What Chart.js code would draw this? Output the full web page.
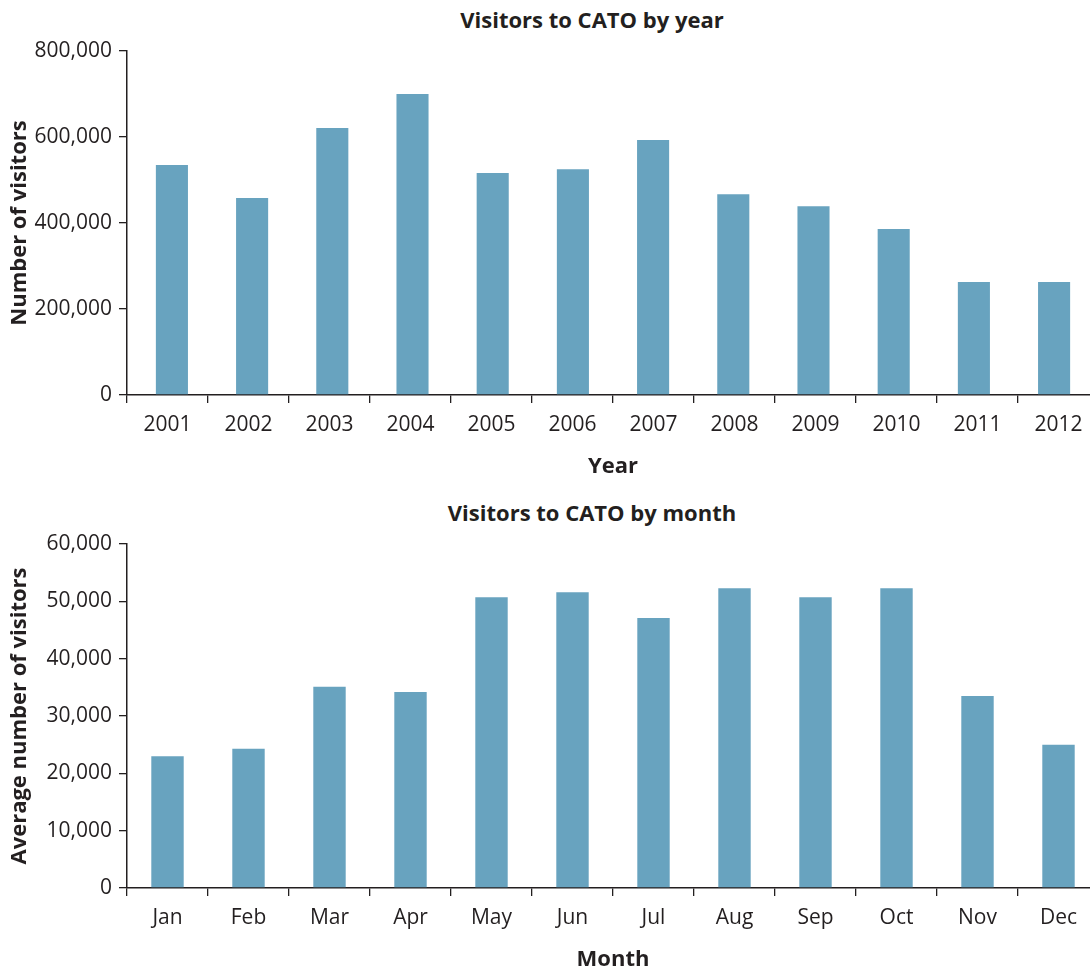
<!DOCTYPE html>
<html>
<head>
<meta charset="utf-8">
<script src="https://cdn.jsdelivr.net/npm/chart.js@4"></script>
<style>
  html, body { margin: 0; padding: 0; background: #fff; overflow: hidden; width: 1090px; height: 973px; }
  .box { position: absolute; left: 0; width: 1100px; }
  .title { position: absolute; left: 0; width: 1184px; text-align: center;
           font: 700 22px 'Open Sans', sans-serif; line-height: 24px; color: #231f20; }
</style>
</head>
<body>
<div class="title" style="top:7px">Visitors to CATO by year</div>
<div class="box" style="top:0; height:487px;"><canvas id="c1"></canvas></div>
<div class="title" style="top:500px">Visitors to CATO by month</div>
<div class="box" style="top:487px; height:486px;"><canvas id="c2"></canvas></div>
<script>
const years = ['2001','2002','2003','2004','2005','2006','2007','2008','2009','2010','2011','2012'];
const visitorsByYear = [535000, 458000, 621000, 700000, 516000, 525000, 593000, 467000, 439000, 386000, 263000, 263000];
const yearTicks = [0, 200000, 400000, 600000, 800000];

const months = ['Jan','Feb','Mar','Apr','May','Jun','Jul','Aug','Sep','Oct','Nov','Dec'];
const visitorsByMonth = [23000, 24300, 35100, 34200, 50700, 51600, 47100, 52300, 50700, 52300, 33500, 25000];
const monthTicks = [0, 10000, 20000, 30000, 40000, 50000, 60000];

const INK = '#231f20';
const BAR = '#68a3bf';
const tickFont = { family: "'Open Sans', sans-serif", size: 21 };
const titleFont = { family: "'Open Sans', sans-serif", size: 22, weight: '700' };

// barRange: [min, max] of a hidden linear axis carrying the bars (to follow the
// slightly tighter bar spacing of the original); null = bars on the category axis.
function makeChart(id, labels, values, tickVals, xTitle, yTitle, padTop, padBottom, barRange) {
  const maxV = tickVals[tickVals.length - 1];
  const step = tickVals[1] - tickVals[0];
  const useLinear = !!barRange;
  const data = useLinear ? values.map((v, i) => ({ x: i, y: v })) : values;
  const scales = {
    x: {
      type: 'category',
      offset: true,
      grid: { display: true, drawOnChartArea: false, drawTicks: true, tickLength: 8, color: INK, lineWidth: 1.3, offset: true },
      border: { display: true, color: INK, width: 1.5 },
      ticks: { color: INK, font: tickFont, padding: 9, maxRotation: 0, autoSkip: false },
      title: { display: true, text: xTitle, color: INK, font: titleFont, padding: { top: 0, bottom: 0 } },
      afterFit: (s) => { s.height = 85; }
    },
    y: {
      min: 0, max: maxV,
      grid: { display: true, drawOnChartArea: false, drawTicks: true, tickLength: 8, color: INK, lineWidth: 1.3 },
      border: { display: true, color: INK, width: 1.5 },
      ticks: { stepSize: step, color: INK, font: tickFont, padding: 7,
               callback: (v) => Number(v).toLocaleString('en-US') },
      title: { display: true, text: yTitle, color: INK, font: titleFont, padding: { top: 7, bottom: 0 } },
      afterFit: (s) => { s.width = 127; }
    }
  };
  if (useLinear) {
    scales.xb = { type: 'linear', axis: 'x', position: 'bottom', display: false, offset: false,
                  grid: { offset: false }, min: barRange[0], max: barRange[1] };
  }
  return new Chart(document.getElementById(id), {
    type: 'bar',
    data: { labels: labels, datasets: [{ data: data, backgroundColor: BAR, borderWidth: 0,
            xAxisID: useLinear ? 'xb' : 'x',
            barPercentage: 0.4, categoryPercentage: 1.0 }] },
    options: {
      responsive: true, maintainAspectRatio: false, animation: false,
      layout: { padding: { top: padTop, bottom: padBottom, left: 0, right: 1 } },
      plugins: { legend: { display: false }, tooltip: { enabled: false }, title: { display: false } },
      scales: scales
    }
  });
}

makeChart('c1', years, visitorsByYear, yearTicks, 'Year', 'Number of visitors', 51, 7, [-0.56, 11.56]);
makeChart('c2', months, visitorsByMonth, monthTicks, 'Month', 'Average number of visitors', 57, 0, null);
</script>
</body>
</html>
